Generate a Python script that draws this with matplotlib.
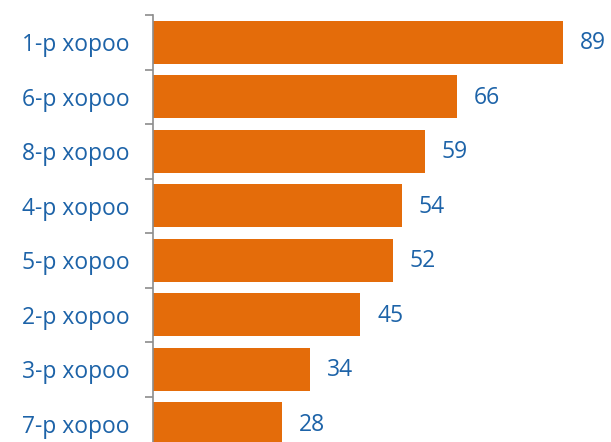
import matplotlib
matplotlib.use('Agg')
import matplotlib.pyplot as plt
import numpy as np

# Дата
categories = ['1-р хороо', '6-р хороо', '8-р хороо', '4-р хороо',
              '5-р хороо', '2-р хороо', '3-р хороо', '7-р хороо']
values = [89, 66, 59, 54, 52, 45, 34, 28]

bar_color = '#E46C0A'
text_color = '#1D63A8'

plt.rcParams['font.family'] = ['Open Sans', 'DejaVu Sans']

fig = plt.figure(figsize=(6.11, 4.42), dpi=100)
ax = fig.add_axes([153 / 611, -9 / 442, 458 / 611, 436 / 442])

y = np.arange(len(categories))
ax.barh(y, values, height=0.79, color=bar_color)

for yi, v in zip(y, values):
    ax.text(v + 3.7, yi + 0.02, str(v), va='center', ha='left',
            fontsize=16.5, color=text_color)

ax.set_xlim(0, 99.4)
ax.set_ylim(len(categories) - 0.5, -0.5)

ax.set_yticks(y)
ax.set_yticklabels(categories, fontsize=16.5, color=text_color)
ax.tick_params(axis='y', which='major', length=0, pad=17)
ax.set_yticks(np.arange(len(categories) + 1) - 0.5, minor=True)
ax.tick_params(axis='y', which='minor', length=6, width=1.2, color='#8C8C8C')

ax.set_xticks([])
for side in ['top', 'right', 'bottom']:
    ax.spines[side].set_visible(False)
ax.spines['left'].set_color('#8C8C8C')
ax.spines['left'].set_linewidth(1.2)

fig.savefig('out.png', dpi=100)
